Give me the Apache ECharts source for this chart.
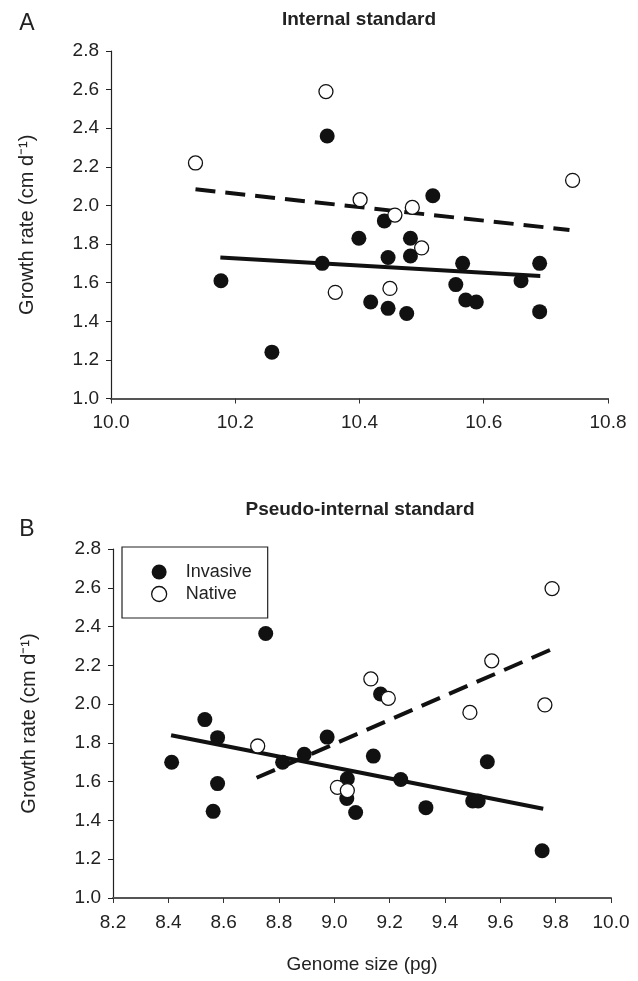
<!DOCTYPE html>
<html>
<head>
<meta charset="utf-8">
<script src="https://cdn.jsdelivr.net/npm/echarts@6/dist/echarts.min.js"></script>
<style>
  html, body { margin: 0; padding: 0; background: #fff; }
  #chart { width: 638px; height: 981px; }
</style>
</head>
<body>
<div id="chart"></div>
<script>
// panel A: internal standard  [genome size (pg), growth rate]
const invasiveA = [[10.177, 1.61], [10.259, 1.24], [10.340, 1.70], [10.348, 2.36], [10.399, 1.83],
  [10.418, 1.50], [10.440, 1.92], [10.446, 1.73], [10.446, 1.467], [10.476, 1.44],
  [10.482, 1.83], [10.482, 1.738], [10.518, 2.05], [10.555, 1.59], [10.566, 1.70],
  [10.571, 1.51], [10.588, 1.50], [10.660, 1.61], [10.690, 1.70], [10.690, 1.45]];
const nativeA = [[10.136, 2.22], [10.346, 2.59], [10.361, 1.55], [10.401, 2.03], [10.449, 1.57],
  [10.457, 1.95], [10.485, 1.99], [10.500, 1.78], [10.743, 2.13]];
// regression line ends
const fitInvasiveA = [[10.176, 1.73], [10.691, 1.635]];
const fitNativeA = [[10.136, 2.084], [10.738, 1.873]];

// panel B: pseudo-internal standard
const invasiveB = [[8.412, 1.70], [8.532, 1.92], [8.562, 1.447], [8.578, 1.827], [8.578, 1.59],
  [8.752, 2.364], [8.813, 1.70], [8.891, 1.741], [8.974, 1.83], [9.045, 1.513],
  [9.047, 1.615], [9.077, 1.441], [9.141, 1.732], [9.167, 2.052], [9.240, 1.611],
  [9.331, 1.466], [9.500, 1.50], [9.520, 1.50], [9.553, 1.703], [9.751, 1.244]];
const nativeB = [[8.723, 1.784], [9.011, 1.571], [9.047, 1.554], [9.132, 2.13], [9.195, 2.03],
  [9.490, 1.957], [9.569, 2.223], [9.761, 1.996], [9.787, 2.596]];
const fitInvasiveB = [[8.41, 1.839], [9.755, 1.46]];
const fitNativeB = [[8.719, 1.62], [9.789, 2.285]];

const xRangeA = [10.0, 10.8];
const xRangeB = [8.2, 10.0];
const yRange = [1.0, 2.8];
const yName = 'Growth rate (cm d\u207B\u00B9)';

const FONT = '"Liberation Sans", Arial, sans-serif';
const INK = '#111';

function xAxisOf(idx, range, name) {
  return {
    type: 'value', gridIndex: idx, min: range[0], max: range[1], interval: 0.2,
    splitLine: { show: false },
    axisLine: { onZero: false, lineStyle: { color: '#555', width: 2 } },
    axisTick: { length: 5, lineStyle: { color: '#333' } },
    axisLabel: {
      margin: 15, color: '#222', fontSize: 19, fontFamily: FONT,
      formatter: v => v.toFixed(1)
    },
    name: name || '', nameLocation: 'middle', nameGap: 57,
    nameTextStyle: { color: '#222', fontSize: 19, fontFamily: FONT }
  }
}

function yAxisOf(idx) {
  return {
    type: 'value', gridIndex: idx, min: yRange[0], max: yRange[1], interval: 0.2,
    splitLine: { show: false },
    axisLine: { show: true, onZero: false, lineStyle: { color: '#222', width: 1.2 } },
    axisTick: { show: true, length: 5, lineStyle: { color: '#222' } },
    axisLabel: {
      margin: 12, color: '#222', fontSize: 19, fontFamily: FONT,
      formatter: v => v.toFixed(1)
    },
    name: yName, nameLocation: 'middle', nameGap: 74, nameRotate: 90,
    nameTextStyle: { color: '#222', fontSize: 20, fontFamily: FONT }
  }
}

function dots(name, idx, data, open) {
  return {
    name, type: 'scatter', xAxisIndex: idx, yAxisIndex: idx, data,
    symbol: 'circle', symbolSize: open ? 14 : 15, z: open ? 4 : 3,
    itemStyle: open
      ? { color: '#fff', borderColor: INK, borderWidth: 1.3, opacity: 1 }
      : { color: INK, borderWidth: 0, opacity: 1 }
  }
}

function fit(idx, data, dashed) {
  return {
    type: 'line', xAxisIndex: idx, yAxisIndex: idx, data,
    symbol: 'none', silent: true, z: 2,
    lineStyle: { color: INK, width: 4, type: dashed ? [20, 10] : 'solid', cap: 'butt' }
  }
}

function label(text, x, y, size, bold) {
  return {
    type: 'text', x, y,
    style: {
      text, fill: '#222', align: 'center', verticalAlign: 'middle',
      font: (bold ? 'bold ' : '') + size + 'px ' + FONT
    }
  }
}

let myChart = echarts.init(document.getElementById('chart'))

let option = {
  animation: false,
  backgroundColor: '#fff',
  grid: [
    { left: 111, top: 51, width: 497, height: 347.5 },
    { left: 113, top: 549, width: 498, height: 349 }
  ],
  xAxis: [xAxisOf(0, xRangeA), xAxisOf(1, xRangeB, 'Genome size (pg)')],
  yAxis: [yAxisOf(0), yAxisOf(1)],
  legend: {
    left: 122, top: 547, orient: 'vertical',
    selectedMode: false,
    borderColor: '#222', borderWidth: 1.2,
    padding: [16, 16, 15, 29],
    itemWidth: 15, itemHeight: 15, itemGap: 4,
    textStyle: { color: '#222', fontSize: 18, fontFamily: FONT, padding: [0, 0, 0, 14] },
    data: [
      { name: 'Invasive', icon: 'circle', itemStyle: { color: INK, borderWidth: 0, opacity: 1 } },
      { name: 'Native', icon: 'circle', itemStyle: { color: '#fff', borderColor: INK, borderWidth: 1.3, opacity: 1 } }
    ]
  },
  graphic: [
    label('A', 27, 24, 23, false),
    label('B', 27, 530, 23, false),
    label('Internal standard', 359, 20, 19, true),
    label('Pseudo-internal standard', 360, 510, 19, true)
  ],
  series: [
    fit(0, fitInvasiveA, false),
    fit(0, fitNativeA, true),
    dots('Invasive', 0, invasiveA, false),
    dots('Native', 0, nativeA, true),
    fit(1, fitInvasiveB, false),
    fit(1, fitNativeB, true),
    dots('Invasive', 1, invasiveB, false),
    dots('Native', 1, nativeB, true)
  ]
}

myChart.setOption(option)
</script>
</body>
</html>
